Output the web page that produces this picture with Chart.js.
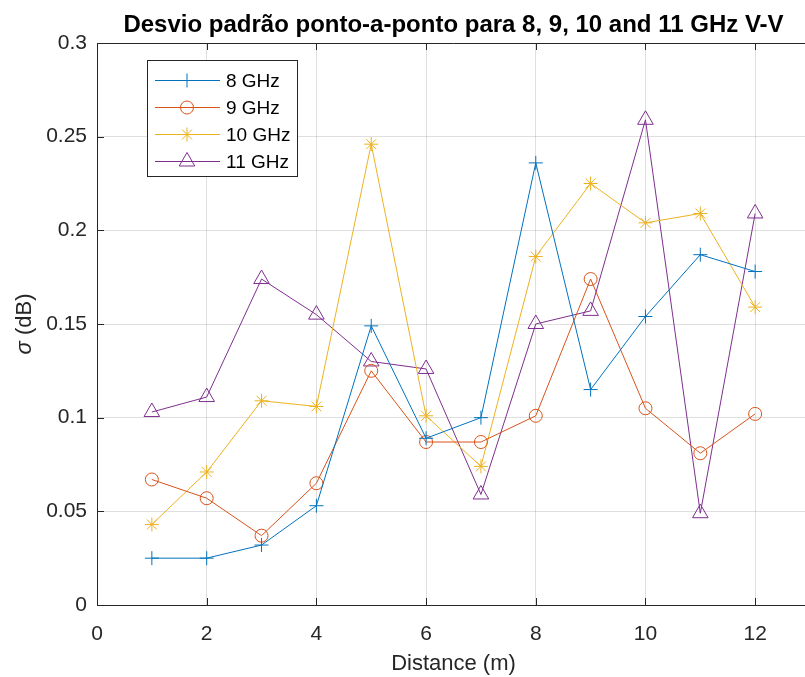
<!DOCTYPE html>
<html>
<head>
<meta charset="utf-8">
<script src="https://cdn.jsdelivr.net/npm/chart.js@4.4.1/dist/chart.umd.min.js"></script>
<style>
html, body { margin: 0; padding: 0; background: #fff; overflow: hidden; }
#wrap { width: 820px; height: 677px; }
</style>
</head>
<body>
<div id="wrap"><canvas id="sigmaChart" width="820" height="677"></canvas></div>
<script>
const distances = [1, 2, 3, 4, 5, 6, 7, 8, 9, 10, 11, 12];
const sigma8GHz = [0.025, 0.025, 0.032, 0.053, 0.149, 0.089, 0.100, 0.236, 0.115, 0.154, 0.187, 0.178];
const sigma9GHz = [0.067, 0.057, 0.037, 0.065, 0.125, 0.087, 0.087, 0.101, 0.174, 0.105, 0.081, 0.102];
const sigma10GHz = [0.043, 0.071, 0.109, 0.106, 0.246, 0.101, 0.074, 0.186, 0.225, 0.204, 0.209, 0.159];
const sigma11GHz = [0.103, 0.111, 0.174, 0.155, 0.130, 0.126, 0.059, 0.150, 0.157, 0.259, 0.049, 0.209];
const seriesLabels = ['8 GHz', '9 GHz', '10 GHz', '11 GHz'];
const xTicks = [0, 2, 4, 6, 8, 10, 12];
const yTicks = [0, 0.05, 0.1, 0.15, 0.2, 0.25, 0.3];

const axisColor = '#262626';
const gridColor = 'rgba(38,38,38,0.15)';
const fontFamily = '"Liberation Sans", Arial, sans-serif';

const styles = [
	{ color: '#0072BD', pointStyle: 'cross', radius: 7 },
	{ color: '#D95319', pointStyle: 'circle', radius: 6.5 },
	{ color: '#EDB120', pointStyle: 'star', radius: 7 },
	{ color: '#7E2F8E', pointStyle: 'triangle', radius: 9 }
];

function toPoints(values) {
	return distances.map((d, i) => ({ x: d, y: values[i] }));
}

function makeDataset(label, values, style) {
	return {
		label: label,
		data: toPoints(values),
		borderColor: style.color,
		backgroundColor: style.color,
		borderWidth: 1,
		pointStyle: style.pointStyle,
		pointRadius: style.radius,
		pointHoverRadius: style.radius,
		pointBorderWidth: 1,
		pointHoverBorderWidth: 1,
		pointBackgroundColor: 'rgba(0,0,0,0)',
		pointBorderColor: style.color,
		tension: 0
	};
}

const decorPlugin = {
	id: 'decorPlugin',
	afterDraw(chart) {
		const { ctx, chartArea: { left, right, top, bottom } } = chart;
		const xs = chart.scales.x;
		const ys = chart.scales.y;
		ctx.save();

		// top box line and inward ticks
		ctx.strokeStyle = axisColor;
		ctx.lineWidth = 1;
		ctx.beginPath();
		ctx.moveTo(left, top + 0.5);
		ctx.lineTo(right, top + 0.5);
		xTicks.forEach(v => {
			const px = Math.round(xs.getPixelForValue(v)) + 0.5;
			ctx.moveTo(px, bottom);
			ctx.lineTo(px, bottom - 7);
			ctx.moveTo(px, top);
			ctx.lineTo(px, top + 7);
		});
		yTicks.forEach(v => {
			const py = Math.round(ys.getPixelForValue(v)) + 0.5;
			ctx.moveTo(left, py);
			ctx.lineTo(left + 7, py);
		});
		ctx.stroke();

		// title
		const cx = (left + right) / 2;
		ctx.fillStyle = '#000';
		ctx.textAlign = 'center';
		ctx.textBaseline = 'alphabetic';
		ctx.font = 'bold 24px ' + fontFamily;
		ctx.fillText('Desvio padrão ponto-a-ponto para 8, 9, 10 and 11 GHz V-V', cx, 32);

		// x axis title
		ctx.fillStyle = axisColor;
		ctx.font = '22px ' + fontFamily;
		ctx.textBaseline = 'middle';
		ctx.fillText('Distance (m)', cx, 664);

		// y axis title, sigma in italic
		ctx.save();
		ctx.translate(25, (top + bottom) / 2);
		ctx.rotate(-Math.PI / 2);
		ctx.textAlign = 'left';
		ctx.font = 'italic 22px ' + fontFamily;
		const sigmaW = ctx.measureText('σ').width;
		ctx.font = '22px ' + fontFamily;
		const restW = ctx.measureText(' (dB)').width;
		const startX = -(sigmaW + restW) / 2;
		ctx.font = 'italic 22px ' + fontFamily;
		ctx.fillText('σ', startX, 0);
		ctx.font = '22px ' + fontFamily;
		ctx.fillText(' (dB)', startX + sigmaW, 0);
		ctx.restore();

		// legend box
		const bx = 147.5, by = 60.5, bw = 150, bh = 116;
		ctx.fillStyle = '#fff';
		ctx.fillRect(bx, by, bw, bh);
		ctx.strokeStyle = axisColor;
		ctx.strokeRect(bx, by, bw, bh);
		ctx.textAlign = 'left';
		ctx.textBaseline = 'middle';
		ctx.font = '19px ' + fontFamily;
		seriesLabels.forEach((label, i) => {
			const st = styles[i];
			const ly = 80.5 + 27 * i;
			ctx.strokeStyle = st.color;
			ctx.lineWidth = 1;
			ctx.beginPath();
			ctx.moveTo(155, ly);
			ctx.lineTo(220, ly);
			ctx.stroke();
			ctx.fillStyle = 'rgba(0,0,0,0)';
			Chart.helpers.drawPoint(ctx, { pointStyle: st.pointStyle, rotation: 0, radius: st.radius, borderWidth: 1 }, 187, ly);
			ctx.fillStyle = '#000';
			ctx.fillText(label, 226, ly + 1);
		});

		ctx.restore();
	}
};

function sigmaChartConfig() {
	const canvas = document.getElementById('sigmaChart');
	if (!canvas) return;
	const ctx = canvas.getContext('2d');

	new Chart(ctx, {
		type: 'line',
		data: {
			datasets: [
				makeDataset(seriesLabels[0], sigma8GHz, styles[0]),
				makeDataset(seriesLabels[1], sigma9GHz, styles[1]),
				makeDataset(seriesLabels[2], sigma10GHz, styles[2]),
				makeDataset(seriesLabels[3], sigma11GHz, styles[3])
			]
		},
		options: {
			responsive: false,
			animation: false,
			devicePixelRatio: 1,
			layout: {
				padding: { top: 43, right: 8, left: 0, bottom: 0 }
			},
			plugins: {
				legend: { display: false },
				tooltip: { enabled: false },
				title: { display: false }
			},
			scales: {
				x: {
					type: 'linear',
					min: 0,
					max: 13,
					afterBuildTicks: scale => { scale.ticks = xTicks.map(v => ({ value: v })); },
					afterFit: scale => { scale.height = 72; },
					grid: { color: gridColor, drawTicks: false },
					border: { color: axisColor, width: 1 },
					ticks: {
						color: axisColor,
						padding: 17,
						maxRotation: 0,
						font: { size: 21, family: fontFamily }
					}
				},
				y: {
					min: 0,
					max: 0.3,
					afterBuildTicks: scale => { scale.ticks = yTicks.map(v => ({ value: v })); },
					afterFit: scale => { scale.width = 97; },
					grid: { color: gridColor, drawTicks: false },
					border: { color: axisColor, width: 1 },
					ticks: {
						color: axisColor,
						padding: 10,
						font: { size: 21, family: fontFamily },
						callback: v => String(+v.toFixed(2))
					}
				}
			}
		},
		plugins: [decorPlugin]
	});
}
document.addEventListener('DOMContentLoaded', sigmaChartConfig);
</script>
</body>
</html>
